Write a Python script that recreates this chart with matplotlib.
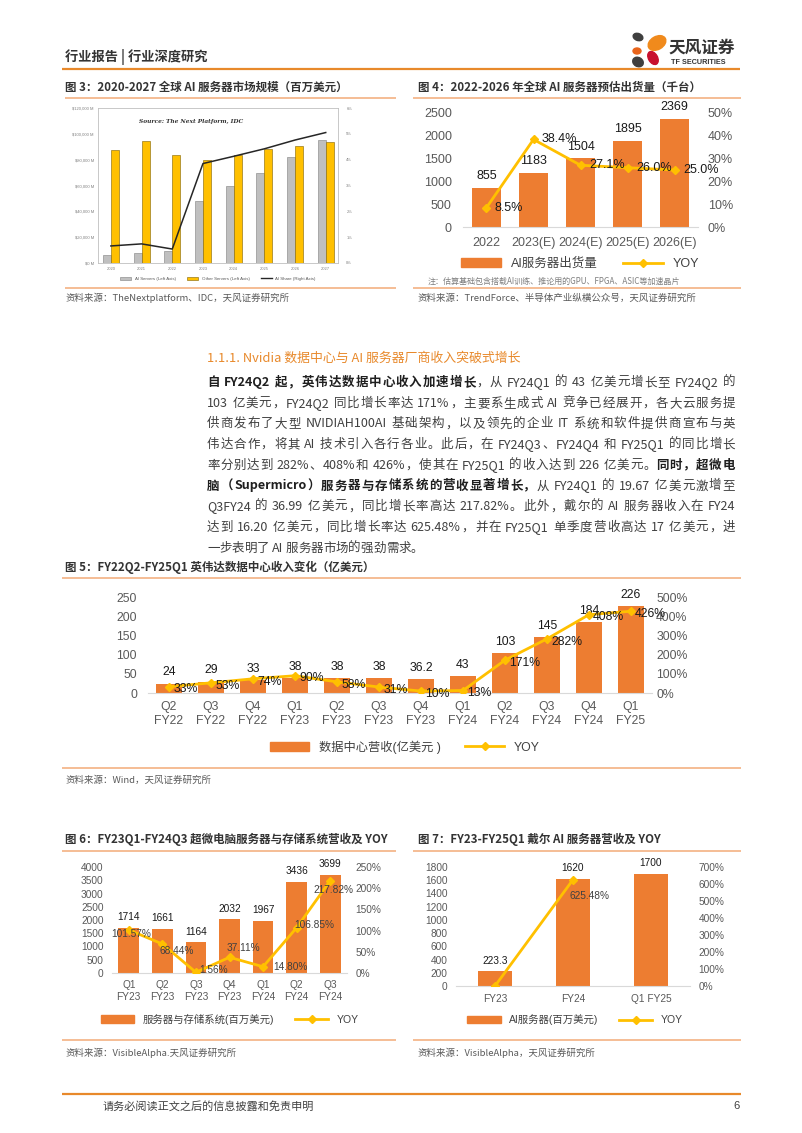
import re
import numpy as np
import matplotlib
matplotlib.use('Agg')
import matplotlib.pyplot as plt
from matplotlib.patches import Patch, Ellipse
from matplotlib.lines import Line2D

plt.rcParams['font.family'] = ['Liberation Sans', 'Noto Sans CJK SC', 'DejaVu Sans']
CJK = ['Noto Sans CJK SC', 'DejaVu Sans']

ORANGE = '#ED7D31'
GOLD = '#FFC000'
RULE = '#F4B183'
GRAY_TXT = '#595959'

# ---- data ----
years3 = ['2020', '2021', '2022', '2023', '2024', '2025', '2026', '2027']
ai_servers3 = [6000, 7500, 9600, 48200, 59400, 69700, 82400, 95100]
other_servers3 = [87300, 94600, 83700, 79800, 83700, 88400, 90500, 93300]
ai_share3 = [0.66, 0.74, 0.54, 3.85, 4.13, 4.42, 4.76, 5.05]

years4 = ['2022', '2023(E)', '2024(E)', '2025(E)', '2026(E)']
ship4 = [855, 1183, 1504, 1895, 2369]
yoy4 = [8.5, 38.4, 27.1, 26.0, 25.0]

quarters5 = ['Q2\nFY22', 'Q3\nFY22', 'Q4\nFY22', 'Q1\nFY23', 'Q2\nFY23', 'Q3\nFY23',
             'Q4\nFY23', 'Q1\nFY24', 'Q2\nFY24', 'Q3\nFY24', 'Q4\nFY24', 'Q1\nFY25']
rev5 = [24, 29, 33, 38, 38, 38, 36.2, 43, 103, 145, 184, 226]
yoy5 = [33, 53, 74, 90, 58, 31, 10, 13, 171, 282, 408, 426]

quarters6 = ['Q1\nFY23', 'Q2\nFY23', 'Q3\nFY23', 'Q4\nFY23', 'Q1\nFY24', 'Q2\nFY24', 'Q3\nFY24']
rev6 = [1714, 1661, 1164, 2032, 1967, 3436, 3699]
yoy6 = [101.57, 68.44, 1.56, 37.11, 14.80, 106.85, 217.82]

periods7 = ['FY23', 'FY24', 'Q1 FY25']
rev7 = [223.3, 1620, 1700]
yoy7 = [0, 625.48]

para = [
    [("自 FY24Q2 起，英伟达数据中心收入加速增长", True), ("，从 FY24Q1 的 43 亿美元增长至 FY24Q2 的", False)],
    [("103 亿美元，FY24Q2 同比增长率达 171%，主要系生成式 AI 竞争已经展开，各大云服务提", False)],
    [("供商发布了大型 NVIDIAH100AI 基础架构，以及领先的企业 IT 系统和软件提供商宣布与英", False)],
    [("伟达合作，将其 AI 技术引入各行各业。此后，在 FY24Q3、FY24Q4 和 FY25Q1 的同比增长", False)],
    [("率分别达到 282%、408%和 426%，使其在 FY25Q1 的收入达到 226 亿美元。", False), ("同时，超微电", True)],
    [("脑（Supermicro）服务器与存储系统的营收显著增长，", True), ("从 FY24Q1 的 19.67 亿美元激增至", False)],
    [("Q3FY24 的 36.99 亿美元，同比增长率高达 217.82%。此外，戴尔的 AI 服务器收入在 FY24", False)],
    [("达到 16.20 亿美元，同比增长率达 625.48%，并在 FY25Q1 单季度营收高达 17 亿美元，进", False)],
    [("一步表明了 AI 服务器市场的强劲需求。", False)],
]

W, H = 802, 1133
fig = plt.figure(figsize=(W / 100, H / 100), dpi=100)
bg = fig.add_axes([0, 0, 1, 1], zorder=0)
bg.set_xlim(0, W)
bg.set_ylim(H, 0)
bg.axis('off')
R = fig.canvas.get_renderer()


def add_ax(l, t, r, b):
    ax = fig.add_axes([l / W, 1 - b / H, (r - l) / W, (b - t) / H], zorder=2)
    ax.set_facecolor('none')
    return ax


def rule(y, x0, x1, color=RULE, lw=1.2):
    bg.plot([x0, x1], [y, y], color=color, lw=lw, solid_capstyle='butt')


def title(x, y, s):
    bg.text(x, y, s, fontsize=8.3, fontweight='bold', color='#333333', va='center', family=CJK)


def source(x, y, s):
    bg.text(x, y, s, fontsize=6.8, color=GRAY_TXT, va='center', family=CJK)


# ---- header ----
bg.text(65, 57, '行业报告 | 行业深度研究', fontsize=9.5, fontweight='bold', color='#333333',
        va='center', family=CJK)
rule(69, 62, 740, color='#E8892B', lw=1.6)
bg.add_patch(Ellipse((638, 37), 10, 7, angle=20, color='#3F3F3F'))
bg.add_patch(Ellipse((657, 43), 19, 13, angle=-30, color='#F08A1C'))
bg.add_patch(Ellipse((637, 51), 8, 6, angle=0, color='#E8641B'))
bg.add_patch(Ellipse((653, 58), 9, 14, angle=-30, color='#C8102E'))
bg.add_patch(Ellipse((638, 62), 11, 9, angle=30, color='#3F3F3F'))
bg.text(668, 48, '天风证券', fontsize=12, fontweight='bold', color='#333333', va='center', family=CJK)
bg.text(671, 62, 'TF SECURITIES', fontsize=5.2, fontweight='bold', color='#333333', va='center')

# ---- figure 3 ----
title(65, 87, '图 3：2020-2027 全球 AI 服务器市场规模（百万美元）')
rule(98, 65, 396)
ax3 = add_ax(98, 108, 338, 263)
x3 = np.arange(len(years3))
ax3.bar(x3 - 0.13, ai_servers3, 0.26, color='#BFBFBF', edgecolor='#7F7F7F', lw=0.4, zorder=2)
ax3.bar(x3 + 0.13, other_servers3, 0.26, color=GOLD, edgecolor='#7F6000', lw=0.4, zorder=2)
ax3.set_xlim(-0.42, 7.4)
ax3.set_ylim(0, 120000)
ax3.set_yticks(np.arange(0, 120001, 20000), ['$%s M' % format(v, ',') for v in range(0, 120001, 20000)])
ax3.set_xticks(x3, years3)
ax3.tick_params(labelsize=3, colors='#7F7F7F', length=0, pad=3)
for sp in ax3.spines.values():
    sp.set_color('#BFBFBF')
    sp.set_linewidth(0.6)
ax3b = ax3.twinx()
ax3b.plot(x3, ai_share3, color='#262626', lw=1.1, zorder=3)
ax3b.set_ylim(0, 6)
ax3b.set_yticks(range(7), ['%d%%' % v for v in range(7)])
ax3b.tick_params(labelsize=3, colors='#7F7F7F', length=0, pad=6)
for sp in ax3b.spines.values():
    sp.set_visible(False)
ax3.text(0.17, 0.91, 'Source: The Next Platform, IDC', transform=ax3.transAxes, fontsize=4.2,
         style='italic', fontweight='bold', family='DejaVu Serif', color='#333333', va='center')
fig.legend([Patch(facecolor='#BFBFBF', edgecolor='#7F7F7F', lw=0.4),
            Patch(facecolor=GOLD, edgecolor='#7F6000', lw=0.4),
            Line2D([], [], color='#262626', lw=1)],
           ['AI Servers (Left Axis)', 'Other Servers (Left Axis)', 'AI Share (Right Axis)'],
           loc='center', bbox_to_anchor=(218 / W, 1 - 279 / H), ncol=3, frameon=False,
           fontsize=3.2, handlelength=2.5, handleheight=0.8, columnspacing=2.5, labelcolor='#595959')
rule(288, 65, 396)
source(65, 298, '资料来源：TheNextplatform、IDC，天风证券研究所')


# ---- combo charts ----
def combo(box, cats, vals, yoy, ylim, ystep, rlim, rstep, width, fs, vfmt, pad_l, pad_r, pad_x):
    ax = add_ax(*box)
    x = np.arange(len(cats))
    ax.bar(x, vals, width, color=ORANGE, zorder=2)
    ax.set_xlim(-0.5, len(cats) - 0.5)
    ax.set_ylim(*ylim)
    ax.set_yticks(np.arange(ylim[0], ylim[1] + 1, ystep))
    ax.set_xticks(x, cats)
    for k in ['top', 'left', 'right']:
        ax.spines[k].set_visible(False)
    ax.spines['bottom'].set_color('#D9D9D9')
    ax.tick_params(axis='y', labelsize=fs, colors=GRAY_TXT, length=0, pad=pad_l)
    ax.tick_params(axis='x', labelsize=fs, colors=GRAY_TXT, length=0, pad=pad_x)
    for xi, v in zip(x, vals):
        ax.annotate(vfmt(v), (xi, v), xytext=(0, 4), textcoords='offset points',
                    ha='center', va='bottom', fontsize=fs, color='#1a1a1a')
    ax2 = ax.twinx()
    ax2.plot(x[:len(yoy)], yoy, color=GOLD, lw=2, marker='D', ms=4.2, zorder=3)
    ax2.set_ylim(*rlim)
    rt = np.arange(rlim[0], rlim[1] + 1, rstep)
    ax2.set_yticks(rt, ['%d%%' % v for v in rt])
    ax2.tick_params(labelsize=fs, colors=GRAY_TXT, length=0, pad=pad_r)
    for sp in ax2.spines.values():
        sp.set_visible(False)
    return ax, ax2


def combo_legend(label, cx, cy, fs):
    fig.legend([Patch(color=ORANGE), Line2D([], [], color=GOLD, lw=2, marker='D', ms=4)],
               [label, 'YOY'], loc='center', bbox_to_anchor=(cx / W, 1 - cy / H), ncol=2,
               frameon=False, fontsize=fs, handlelength=3.2, handleheight=0.7,
               columnspacing=2.0, labelcolor='#404040')


# figure 4
title(418, 87, '图 4：2022-2026 年全球 AI 服务器预估出货量（千台）')
rule(98, 413, 741)
ax4, ax4b = combo((463, 113, 698, 227), years4, ship4, yoy4, (0, 2500), 500, (0, 50), 10,
                  0.62, 9, lambda v: '%d' % v, 8, 7, 7)
for xi, v in enumerate(yoy4):
    ax4b.annotate('%.1f%%' % v, (xi, v), xytext=(6, 0), textcoords='offset points',
                  ha='left', va='center', fontsize=9, color='#1a1a1a')
combo_legend('AI服务器出货量', 580, 264, 9)
bg.text(428, 281, '注：估算基础包含搭载AI训练、推论用的GPU、FPGA、ASIC等加速晶片', fontsize=5.8,
        color='#7F7F7F', va='center', family=CJK)
rule(288, 413, 741)
source(418, 298, '资料来源：TrendForce、半导体产业纵横公众号，天风证券研究所')

# ---- section text ----
bg.text(207, 358, '1.1.1. Nvidia 数据中心与 AI 服务器厂商收入突破式增长', fontsize=9.3,
        color='#E8892B', va='center', family=CJK)

TOK = re.compile(r'[\u3000-\u303f\u4e00-\u9fff\uff00-\uffef]|[^\s\u3000-\u303f\u4e00-\u9fff\uff00-\uffef]+|\s+')


def width_of(s, bold, fs):
    t1 = bg.text(0, 0, '中' + s + '中', fontsize=fs, family=CJK, fontweight='bold' if bold else 'normal')
    t2 = bg.text(0, 0, '中中', fontsize=fs, family=CJK, fontweight='bold' if bold else 'normal')
    w = t1.get_window_extent(R).width - t2.get_window_extent(R).width
    t1.remove()
    t2.remove()
    return w


def draw_line(y, segs, x0=207, x1=735, fs=9.0, justify=True):
    toks = []
    for s, bold in segs:
        for tk in TOK.findall(s):
            if tk.isspace():
                toks.append((None, bold, 2.5))
            else:
                toks.append((tk, bold, width_of(tk, bold, fs)))
    total = sum(t[2] for t in toks)
    gaps = len(toks) - 1
    extra = (x1 - x0 - total) / gaps if (justify and gaps > 0) else 0
    x = x0
    for tk, bold, w in toks:
        if tk is not None:
            bg.text(x, y, tk, fontsize=fs, family=CJK, va='baseline',
                    fontweight='bold' if bold else 'normal',
                    color='#1f1f1f' if bold else '#404040')
        x += w + extra


for i, segs in enumerate(para):
    draw_line(386 + i * 20.7, segs, justify=(i < len(para) - 1))

# figure 5
title(65, 567, '图 5：FY22Q2-FY25Q1 英伟达数据中心收入变化（亿美元）')
rule(578, 62, 741)
ax5, ax5b = combo((148, 597, 652, 693), quarters5, rev5, yoy5, (0, 250), 50, (0, 500), 100,
                  0.62, 8.8, lambda v: ('%g' % v), 8, 3, 6)
for xi, v in enumerate(yoy5):
    ax5b.annotate('%d%%' % v, (xi, v), xytext=(3, -2), textcoords='offset points',
                  ha='left', va='center', fontsize=8.8, color='#1a1a1a')
combo_legend('数据中心营收(亿美元 )', 405, 747, 8.8)
rule(768, 62, 741)
source(65, 780, '资料来源：Wind，天风证券研究所')

# figure 6
title(65, 839, '图 6：FY23Q1-FY24Q3 超微电脑服务器与存储系统营收及 YOY')
rule(851, 62, 396)
ax6, ax6b = combo((112, 867, 347, 973), quarters6, rev6, yoy6, (0, 4000), 500, (0, 250), 50,
                  0.62, 7.3, lambda v: '%d' % v, 6, 6, 5)
offs6 = [(2, -3), (10, -5), (13, 2), (10, 7), (20, 0), (13, 2), (2, -7)]
for xi, (v, (dx, dy)) in enumerate(zip(yoy6, offs6)):
    ax6b.annotate('%.2f%%' % v, (xi, v), xytext=(dx, dy), textcoords='offset points',
                  ha='center', va='center', fontsize=7.3, color='#404040')
combo_legend('服务器与存储系统(百万美元)', 230, 1019, 7.5)
rule(1040, 62, 396)
source(65, 1053, '资料来源：VisibleAlpha.天风证券研究所')

# figure 7
title(418, 839, '图 7：FY23-FY25Q1 戴尔 AI 服务器营收及 YOY')
rule(851, 413, 741)
ax7, ax7b = combo((456, 867, 690, 986), periods7, rev7, yoy7, (0, 1800), 200, (0, 700), 100,
                  0.43, 7.3, lambda v: '%g' % v, 6, 6, 6)
ax7b.annotate('%.2f%%' % yoy7[1], (1, yoy7[1]), xytext=(12, -12), textcoords='offset points',
              ha='center', va='center', fontsize=7.3, color='#404040')
combo_legend('AI服务器(百万美元)', 575, 1020, 7.5)
rule(1040, 413, 741)
source(418, 1053, '资料来源：VisibleAlpha，天风证券研究所')

# ---- footer ----
rule(1094, 62, 741, color='#E8892B', lw=1.6)
bg.text(103, 1106, '请务必阅读正文之后的信息披露和免责申明', fontsize=8, color='#404040', va='center', family=CJK)
bg.text(733, 1106, '6', fontsize=8, color='#404040', va='center')

fig.savefig('out.png', dpi=100)
